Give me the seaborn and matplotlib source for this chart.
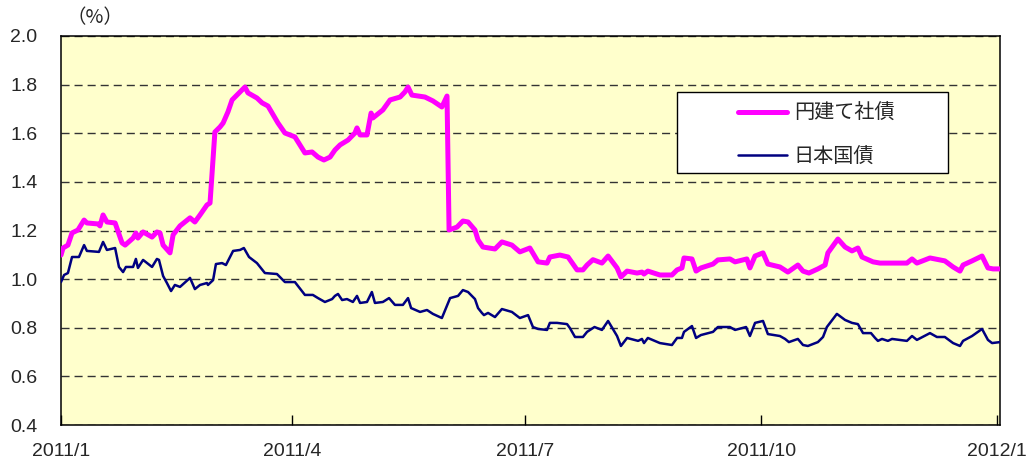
import numpy as np
import pandas as pd
import matplotlib
matplotlib.use("Agg")
import matplotlib.pyplot as plt
from matplotlib.patches import Rectangle
import seaborn as sns

# ---------------- data (day offset from 2011-01-01, yield %) ----------------
corp_day = [0, 0.8, 2.7, 4.3, 6.6, 9.0, 10.1, 14.4, 15.2, 16.4, 17.9, 21.1, 23.8, 25.0, 28.1,
            29.2, 30.0, 32.0, 35.5, 37.4, 38.6, 39.8, 42.5, 43.7, 46.4, 50.3, 52.2, 54.2, 56.9,
            58.1, 60.0, 62.0, 63.2, 65.1, 66.7, 68.6, 71.7, 72.9, 76.4, 78.4, 80.7, 84.6, 87.3,
            91.2, 95.1, 97.9, 100.2, 102.5, 104.9, 106.8, 108.8, 111.9, 114.6, 115.4, 116.6,
            119.3, 120.9, 121.6, 125.5, 128.3, 132.2, 134.1, 135.3, 136.8, 141.9, 145.0, 148.5,
            150.5, 151.3, 154.4, 156.7, 158.7, 161.4, 162.6, 164.5, 169.2, 171.9, 175.8, 178.9,
            182.8, 186.0, 189.5, 190.6, 194.5, 197.7, 201.2, 203.5, 205.1, 207.4, 210.9, 213.3,
            216.8, 218.3, 220.7, 224.6, 226.5, 227.3, 228.8, 233.5, 238.2, 240.2, 242.1, 242.9,
            246.0, 247.6, 249.5, 254.2, 256.1, 260.8, 262.8, 267.4, 268.6, 270.6, 273.7, 275.6,
            280.3, 283.4, 287.3, 289.3, 291.6, 295.1, 297.9, 299.0, 302.9, 305.7, 308.4, 310.7,
            312.3, 316.6, 319.3, 323.2, 329.8, 331.8, 333.7, 338.8, 344.6, 347.8, 350.5, 351.7,
            355.2, 359.1, 361.4, 363.4, 366.1]
corp_val = [1.099, 1.128, 1.140, 1.190, 1.202, 1.243, 1.231, 1.227, 1.219, 1.264, 1.235, 1.231,
            1.149, 1.140, 1.169, 1.190, 1.169, 1.194, 1.173, 1.194, 1.190, 1.140, 1.108, 1.182,
            1.219, 1.252, 1.235, 1.264, 1.305, 1.313, 1.605, 1.626, 1.642, 1.688, 1.737, 1.757,
            1.790, 1.766, 1.745, 1.725, 1.712, 1.642, 1.601, 1.585, 1.519, 1.523, 1.502, 1.490,
            1.502, 1.531, 1.552, 1.572, 1.601, 1.622, 1.593, 1.593, 1.683, 1.663, 1.696, 1.737,
            1.749, 1.770, 1.790, 1.757, 1.749, 1.733, 1.708, 1.753, 1.202, 1.214, 1.239, 1.235,
            1.202, 1.161, 1.132, 1.124, 1.153, 1.140, 1.112, 1.128, 1.071, 1.066, 1.091, 1.099,
            1.091, 1.038, 1.038, 1.058, 1.080, 1.066, 1.095, 1.046, 1.009, 1.033, 1.025, 1.029,
            1.021, 1.033, 1.017, 1.017, 1.038, 1.046, 1.087, 1.083, 1.033, 1.046, 1.062, 1.079,
            1.083, 1.071, 1.083, 1.046, 1.095, 1.108, 1.062, 1.050, 1.029, 1.058, 1.033, 1.025,
            1.042, 1.058, 1.108, 1.165, 1.132, 1.116, 1.128, 1.091, 1.071, 1.066, 1.066, 1.066,
            1.083, 1.066, 1.087, 1.075, 1.050, 1.033, 1.058, 1.075, 1.095, 1.046, 1.042, 1.042]

jgb_day = [0, 1.2, 2.7, 4.3, 7.0, 9.0, 10.1, 14.8, 16.4, 17.9, 21.1, 22.6, 24.2, 25.3, 28.1,
           29.2, 30.0, 32.0, 35.5, 37.4, 38.2, 39.8, 41.3, 42.9, 44.4, 46.4, 50.3, 52.2, 54.2,
           56.9, 57.3, 59.3, 60.4, 62.8, 64.3, 67.1, 69.8, 71.3, 73.3, 76.4, 79.5, 84.2, 87.3,
           91.2, 95.1, 98.2, 100.2, 102.9, 105.7, 106.8, 108.0, 109.6, 111.5, 113.8, 115.4,
           116.6, 119.3, 121.2, 122.4, 125.5, 127.9, 130.2, 133.3, 135.3, 136.5, 140.0, 142.7,
           145.0, 148.5, 151.7, 154.8, 156.7, 158.7, 161.4, 162.6, 164.1, 164.9, 166.5, 169.2,
           171.9, 175.8, 178.9, 182.1, 184.0, 186.0, 189.5, 190.6, 193.4, 197.3, 198.4, 200.4,
           203.5, 205.1, 208.0, 210.9, 213.3, 216.8, 218.3, 220.7, 225.0, 226.5, 227.3, 228.8,
           233.5, 238.2, 240.2, 242.1, 242.9, 246.0, 247.6, 249.5, 254.2, 256.1, 260.8, 262.8,
           267.1, 268.6, 270.6, 273.7, 275.6, 280.3, 282.3, 283.8, 287.3, 289.3, 291.2, 295.1,
           297.1, 298.6, 302.5, 305.7, 308.4, 310.7, 312.7, 315.8, 317.4, 318.5, 320.1, 322.4,
           324.0, 329.8, 331.8, 333.7, 338.8, 341.5, 344.6, 347.8, 350.5, 351.7, 355.2, 359.1,
           361.4, 363.0, 366.1]
jgb_val = [0.988, 1.017, 1.025, 1.091, 1.091, 1.140, 1.116, 1.112, 1.153, 1.120, 1.128, 1.050,
           1.029, 1.050, 1.050, 1.083, 1.046, 1.079, 1.050, 1.083, 1.079, 1.013, 0.984, 0.951,
           0.976, 0.968, 1.005, 0.959, 0.976, 0.984, 0.976, 0.996, 1.062, 1.066, 1.058, 1.116,
           1.120, 1.128, 1.091, 1.066, 1.025, 1.021, 0.988, 0.988, 0.935, 0.935, 0.922, 0.906,
           0.918, 0.931, 0.939, 0.914, 0.918, 0.906, 0.931, 0.902, 0.906, 0.947, 0.902, 0.906,
           0.922, 0.894, 0.894, 0.922, 0.881, 0.865, 0.873, 0.857, 0.840, 0.922, 0.931, 0.955,
           0.947, 0.918, 0.881, 0.861, 0.852, 0.861, 0.844, 0.877, 0.865, 0.840, 0.852, 0.803,
           0.795, 0.791, 0.820, 0.820, 0.815, 0.799, 0.762, 0.762, 0.783, 0.803, 0.791, 0.828,
           0.766, 0.725, 0.758, 0.746, 0.754, 0.737, 0.758, 0.737, 0.729, 0.758, 0.758, 0.783,
           0.807, 0.758, 0.770, 0.783, 0.803, 0.803, 0.791, 0.803, 0.766, 0.820, 0.828, 0.774,
           0.766, 0.754, 0.741, 0.754, 0.729, 0.725, 0.741, 0.762, 0.803, 0.857, 0.832, 0.820,
           0.815, 0.778, 0.778, 0.758, 0.746, 0.754, 0.746, 0.754, 0.746, 0.766, 0.750, 0.778,
           0.762, 0.762, 0.737, 0.725, 0.746, 0.766, 0.795, 0.750, 0.737, 0.741]

series_names = ["円建て社債", "日本国債"]
tick_dates = ["2011-01-01", "2011-04-01", "2011-07-01", "2011-10-01", "2012-01-01"]
tick_labels = ["2011/1", "2011/4", "2011/7", "2011/10", "2012/1"]
y_ticks = [0.4, 0.6, 0.8, 1.0, 1.2, 1.4, 1.6, 1.8, 2.0]

# ---------------- build frame ----------------
base = pd.Timestamp("2011-01-01")
df_corp = pd.DataFrame({"date": base + pd.to_timedelta(corp_day, unit="D"),
                        "value": corp_val, "series": series_names[0]})
df_jgb = pd.DataFrame({"date": base + pd.to_timedelta(jgb_day, unit="D"),
                       "value": jgb_val, "series": series_names[1]})

sns.set_style("white")
plt.rcParams["font.family"] = ["Liberation Sans", "Noto Sans CJK JP", "DejaVu Sans"]

fig = plt.figure(figsize=(10.30, 4.66), dpi=100)
ax = fig.add_axes([61 / 1030, 1 - 425 / 466, 939 / 1030, 389 / 466])
ax.set_facecolor("#FFFFCC")

sns.lineplot(data=df_corp, x="date", y="value", ax=ax, color="#FF00FF", linewidth=3.6,
             label=series_names[0], estimator=None, sort=False, zorder=4)
sns.lineplot(data=df_jgb, x="date", y="value", ax=ax, color="#000080", linewidth=1.8,
             label=series_names[1], estimator=None, sort=False, zorder=3)
for ln in ax.lines:
    ln.set_solid_joinstyle("round")

ax.set_ylim(0.4, 2.0)
ax.set_xlim(base, base + pd.Timedelta(days=366.1))
ax.set_yticks(y_ticks)
ax.set_yticklabels([f"{v:.1f}" for v in y_ticks])
ax.set_xticks(pd.to_datetime(tick_dates))
ax.set_xticklabels(tick_labels)
ax.set_xlabel("")
ax.set_ylabel("")

ax.yaxis.grid(True, color="#333333", linestyle=(0, (5.8, 3.6)), linewidth=1.0)
ax.xaxis.grid(False)
ax.set_axisbelow(True)

ax.tick_params(axis="x", direction="in", length=7, width=1, color="black",
               labelsize=14, pad=13, bottom=True)
ax.tick_params(axis="y", length=0, labelsize=14, pad=17)
for sp in ax.spines.values():
    sp.set_visible(True)
    sp.set_color("black")
    sp.set_linewidth(1.1)

ax.text(0.036, 1.046, "（%）", transform=ax.transAxes, ha="center", va="center",
        fontsize=14, family=["Noto Sans CJK JP", "DejaVu Sans"])

# legend box and legend entries
ax.add_patch(Rectangle((0.656, 0.648), 0.289, 0.208, transform=ax.transAxes,
                       facecolor="white", edgecolor="black", linewidth=1.0, zorder=5))
leg = ax.legend(loc="upper left", bbox_to_anchor=(0.7107, 0.853), frameon=False,
                borderpad=0, handlelength=2.4, handletextpad=0.35, labelspacing=1.1,
                prop={"family": ["Noto Sans CJK JP"], "size": 14.5})
leg.set_zorder(6)

fig.savefig("out.png", dpi=100)
